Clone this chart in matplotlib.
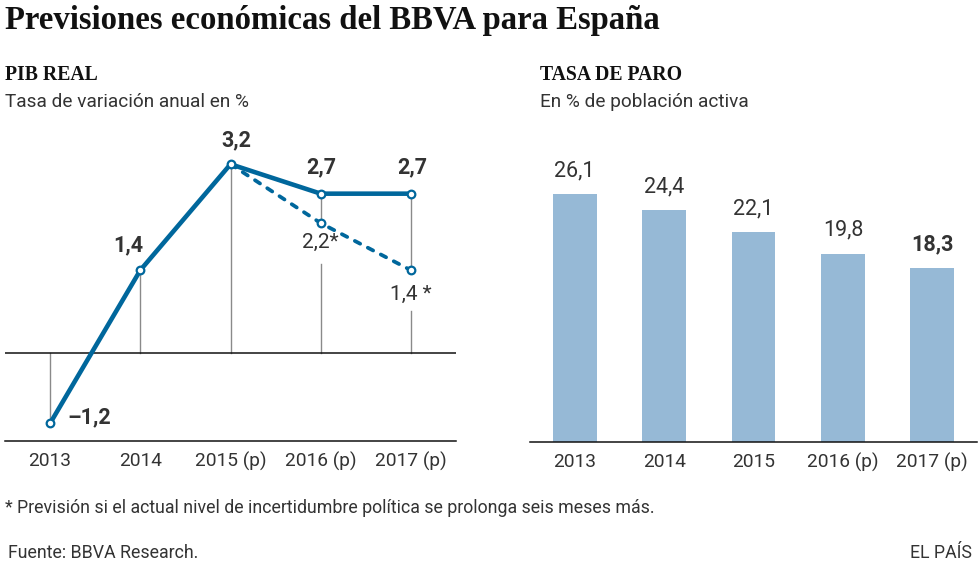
# ============================================================
# PREVISIONES ECONÓMICAS DEL BBVA PARA ESPAÑA
# PIB real (líneas) + tasa de paro (barras)
# ============================================================

import matplotlib
matplotlib.use("Agg")

import matplotlib.pyplot as plt

# ============================================================
# 1. DATOS
# ============================================================

years_pib = ["2013", "2014", "2015 (p)", "2016 (p)", "2017 (p)"]
pib = [-1.2, 1.4, 3.2, 2.7, 2.7]

# escenario con incertidumbre política (desde 2015)
years_incert = ["2015 (p)", "2016 (p)", "2017 (p)"]
pib_incert = [3.2, 2.2, 1.4]

years_paro = ["2013", "2014", "2015", "2016 (p)", "2017 (p)"]
paro = [26.1, 24.4, 22.1, 19.8, 18.3]

# ============================================================
# 2. ESTILO
# ============================================================

BLUE = "#00679c"
BAR_BLUE = "#96b9d6"
TEXT = "#333333"
GRAY_LINE = "#8a8a8a"

SANS = ["Roboto", "DejaVu Sans"]
SERIF = ["Liberation Serif", "DejaVu Serif"]

W, H = 980, 568


def fmt(v):
    s = f"{v:.1f}".replace(".", ",")
    return s.replace("-", "\u2013")


def px_box(x0, y_top, x1, y_bottom):
    # convierte una caja en píxeles (origen arriba) a fracciones de figura
    return [x0 / W, 1 - y_bottom / H, (x1 - x0) / W, (y_bottom - y_top) / H]


fig = plt.figure(figsize=(W / 100, H / 100), dpi=100)

# ============================================================
# 3. TÍTULOS
# ============================================================

fig.text(5 / W, 1 - 20 / H, "Previsiones económicas del BBVA para España",
         family=SERIF, weight="bold", size=23.6, color="#111111",
         va="center", ha="left")

fig.text(5 / W, 1 - 75 / H, "PIB REAL", family=SERIF, weight="bold",
         size=14.2, color="#111111", va="center")
fig.text(5 / W, 1 - 102 / H, "Tasa de variación anual en %", family=SANS,
         size=13.7, color=TEXT, va="center")

fig.text(540 / W, 1 - 75 / H, "TASA DE PARO", family=SERIF, weight="bold",
         size=14.2, color="#111111", va="center")
fig.text(540 / W, 1 - 102 / H, "En % de población activa", family=SANS,
         size=13.7, color=TEXT, va="center")

# ============================================================
# 4. GRÁFICO PIB
# ============================================================

ax1 = fig.add_axes(px_box(5, 123, 456, 441))

x_pib = list(range(len(years_pib)))
x_inc = [years_pib.index(y) for y in years_incert]

# líneas verticales de referencia
for i, v in enumerate(pib):
    if years_pib[i] in years_incert and years_incert.index(years_pib[i]) > 0:
        vi = pib_incert[years_incert.index(years_pib[i])]
        ax1.plot([i, i], [v, vi], color=GRAY_LINE, lw=1, zorder=1)
        ax1.plot([i, i], [vi - 0.7, 0], color=GRAY_LINE, lw=1, zorder=1)
    else:
        ax1.plot([i, i], [v, 0], color=GRAY_LINE, lw=1, zorder=1)

ax1.axhline(0, color="#111111", lw=1.1, zorder=2)

ax1.plot(x_inc, pib_incert, color=BLUE, lw=2.7, ls=(0, (1.6, 2.3)),
         dash_capstyle="round", zorder=3)
ax1.plot(x_inc[1:], pib_incert[1:], ls="none", marker="o", ms=5.5,
         mfc="white", mec=BLUE, mew=1.6, zorder=5)

ax1.plot(x_pib, pib, color=BLUE, lw=3.3, solid_joinstyle="round", zorder=4,
         marker="o", ms=5.5, mfc="white", mec=BLUE, mew=1.6)

# etiquetas de valores (desplazamientos en píxeles)
offsets = [(17, 6, "left"), (-12, 25, "center"), (6, 24, "center"),
           (1, 26, "center"), (1, 26, "center")]
for i, v in enumerate(pib):
    dx, dy, ha = offsets[i]
    ax1.annotate(fmt(v), (i, v), xytext=(dx, dy), textcoords="offset pixels",
                 ha=ha, va="center", family=SANS, weight="bold", size=15.5,
                 color=TEXT)

inc_labels = ["2,2*", "1,4 *"]
for j, (xi, v) in enumerate(zip(x_inc[1:], pib_incert[1:])):
    dy = [-19, -24][j]
    ax1.annotate(inc_labels[j], (xi, v), xytext=(0, dy),
                 textcoords="offset pixels", ha="center", va="center",
                 family=SANS, size=15, color=TEXT)

ax1.set_xlim(-0.5, 4.5)
ax1.set_ylim(-1.5, 3.9)
ax1.set_xticks(x_pib)
ax1.set_xticklabels(years_pib, family=SANS, size=13.8, color=TEXT)
ax1.set_yticks([])
ax1.tick_params(axis="x", length=0, pad=8)
for s in ["top", "left", "right"]:
    ax1.spines[s].set_visible(False)
ax1.spines["bottom"].set_color("#111111")
ax1.spines["bottom"].set_linewidth(1.1)

# ============================================================
# 5. GRÁFICO PARO
# ============================================================

ax2 = fig.add_axes(px_box(530, 157, 977, 442))

x_paro = list(range(len(years_paro)))
bars = ax2.bar(x_paro, paro, width=0.49, color=BAR_BLUE, zorder=2)

for i, v in enumerate(paro):
    last = i == len(paro) - 1
    ax2.annotate(fmt(v), (i, v), xytext=(0, 13), textcoords="offset pixels",
                 ha="center", va="bottom", family=SANS,
                 weight="bold" if last else "normal", size=15.5, color=TEXT)

ax2.set_xlim(-0.5, 4.5)
ax2.set_ylim(0, 30)
ax2.set_xticks(x_paro)
ax2.set_xticklabels(years_paro, family=SANS, size=13.8, color=TEXT)
ax2.set_yticks([])
ax2.tick_params(axis="x", length=0, pad=8)
for s in ["top", "left", "right"]:
    ax2.spines[s].set_visible(False)
ax2.spines["bottom"].set_color("#111111")
ax2.spines["bottom"].set_linewidth(1.1)

# ============================================================
# 6. NOTAS Y FUENTE
# ============================================================

fig.text(5 / W, 1 - 508 / H,
         "* Previsión si el actual nivel de incertidumbre política se "
         "prolonga seis meses más.",
         family=SANS, size=12.8, color=TEXT, va="center")
fig.text(8 / W, 1 - 553 / H, "Fuente: BBVA Research.", family=SANS,
         size=12.8, color=TEXT, va="center")
fig.text(972 / W, 1 - 553 / H, "EL PAÍS", family=SANS,
         size=12.8, color=TEXT, va="center", ha="right")

fig.savefig("out.png", dpi=100)
